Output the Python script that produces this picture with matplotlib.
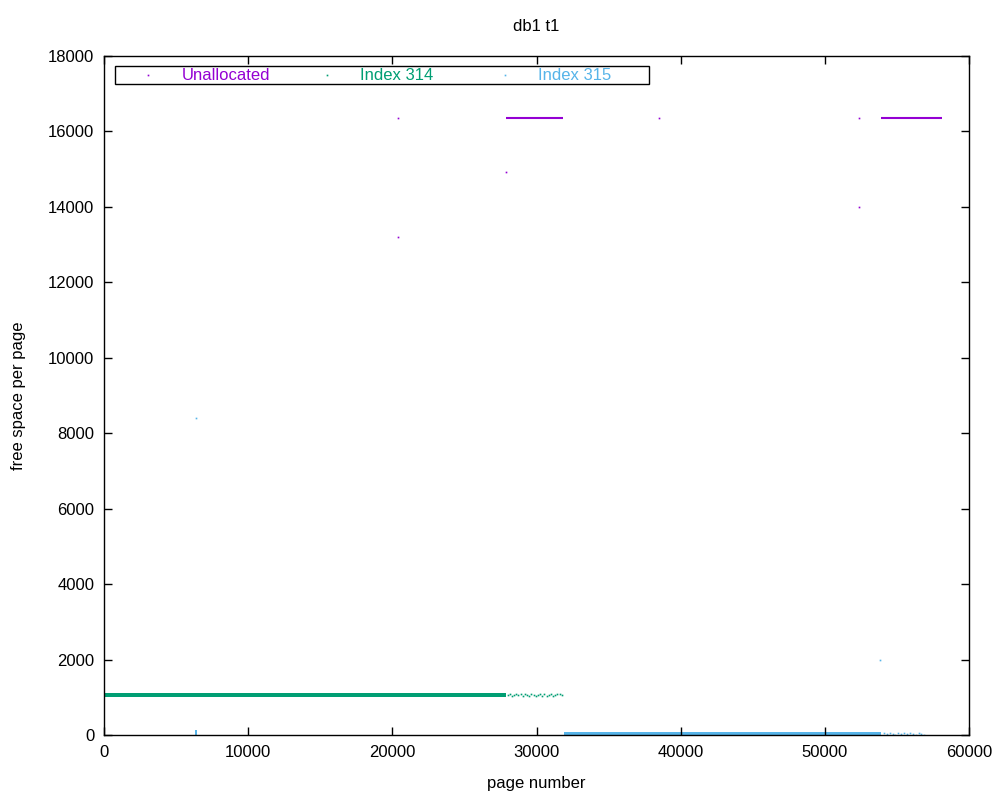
import matplotlib
matplotlib.use("Agg")
import matplotlib.pyplot as plt
from matplotlib.patches import Rectangle

plt.rcParams["font.family"] = ["Liberation Sans", "DejaVu Sans"]
plt.rcParams["font.size"] = 12

PURPLE = "#9400D3"
GREEN = "#009E73"
BLUE = "#56B4E9"

# Unallocated: runs of pages at the same free space, plus lone pages
unalloc_run_start = [27900, 53900]
unalloc_run_end = [31850, 58100]
unalloc_run_y = [16360, 16360]
unalloc_x = [20400, 20400, 27900, 38500, 52400, 52350]
unalloc_y = [16360, 13200, 14930, 16360, 16360, 14000]

# Index 314: dense band then sparse tail
idx314_band_start = [0]
idx314_band_end = [27900]
idx314_band_lo = [1000]
idx314_band_hi = [1120]
idx314_x = [28000, 28150, 28300, 28450, 28600, 28750, 28900, 29050, 29200,
            29350, 29500, 29650, 29800, 29950, 30100, 30250, 30400, 30550,
            30700, 30850, 31000, 31150, 31300, 31450, 31600, 31750]
idx314_y = [1060, 1090, 1040, 1070, 1100, 1050, 1080, 1030, 1095, 1065,
            1040, 1085, 1055, 1030, 1070, 1100, 1045, 1080, 1035, 1060,
            1090, 1040, 1050, 1075, 1100, 1060]

# Index 315: dense band then sparse tail, a few outliers
idx315_band_start = [31900, 6330]
idx315_band_end = [53900, 6450]
idx315_band_lo = [0, 0]
idx315_band_hi = [90, 120]
idx315_x = [54100, 54300, 54500, 54700, 54900, 55100, 55300, 55500, 55700,
            55900, 56100, 56300, 56500, 56700, 56900, 6380, 53830]
idx315_y = [50, 20, 60, 30, 10, 55, 25, 45, 15, 60, 30, 10, 50, 20, 5,
            8400, 1990]

labels = ["Unallocated", "Index 314", "Index 315"]
colors = [PURPLE, GREEN, BLUE]

fig = plt.figure(figsize=(10, 8), dpi=100)
ax = fig.add_axes([0.104, 0.08125, 0.865, 0.84875])

for x0, x1, y in zip(unalloc_run_start, unalloc_run_end, unalloc_run_y):
    ax.hlines(y, x0, x1, color=PURPLE, lw=1.5)
for x0, x1, lo, hi in zip(idx314_band_start, idx314_band_end, idx314_band_lo, idx314_band_hi):
    ax.fill_between([x0, x1], lo, hi, color=GREEN, lw=0)
for x0, x1, lo, hi in zip(idx315_band_start, idx315_band_end, idx315_band_lo, idx315_band_hi):
    ax.fill_between([x0, x1], lo, hi, color=BLUE, lw=0)

ax.plot(unalloc_x, unalloc_y, ls="none", marker="s", ms=1.2, mew=0, color=PURPLE)
ax.plot(idx314_x, idx314_y, ls="none", marker="s", ms=1.2, mew=0, color=GREEN)
ax.plot(idx315_x, idx315_y, ls="none", marker="s", ms=1.2, mew=0, color=BLUE)

ax.set_xlim(0, 60000)
ax.set_ylim(0, 18000)
ax.set_xticks(range(0, 60001, 10000))
ax.set_yticks(range(0, 18001, 2000))
ax.tick_params(direction="in", top=True, right=True, length=6, width=1, pad=7)
for s in ax.spines.values():
    s.set_linewidth(1)

ax.set_xlabel("page number", labelpad=12)
ax.set_ylabel("free space per page", labelpad=16)
ax.set_title("db1 t1", pad=18, fontsize=12)

# gnuplot-style key: boxed, equal-width columns
ax.add_patch(Rectangle((0.0127, 0.9588), 0.6174, 0.0265, transform=ax.transAxes,
                       fill=False, edgecolor="black", lw=1, zorder=5))
key_mark_x = [0.0509, 0.2578, 0.4636]
key_text_x = [0.0902, 0.2960, 0.5017]
for mx, tx, lab, c in zip(key_mark_x, key_text_x, labels, colors):
    ax.plot([mx], [0.972], ls="none", marker="s", ms=1.2, mew=0, color=c,
            transform=ax.transAxes, clip_on=False)
    ax.text(tx, 0.972, lab, color=c, transform=ax.transAxes, ha="left", va="center")

fig.savefig("out.png", dpi=100)
